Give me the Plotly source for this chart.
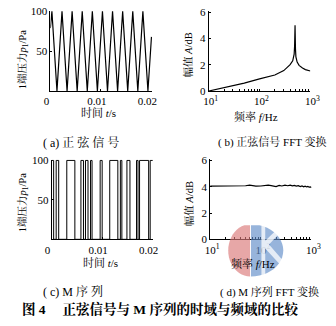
import math
import plotly.graph_objects as go

W, H = 336, 326
FONT = "Liberation Serif, Noto Serif CJK SC, Noto Sans CJK SC, serif"

# (a) sine excitation: turning points of the 500 Hz pressure signal
sine_t = [0.0, 0.0003, 0.0013, 0.0023, 0.0033, 0.0043, 0.0053, 0.0063, 0.0073,
          0.0083, 0.0093, 0.0103, 0.0113, 0.0123, 0.0133, 0.0143, 0.0153,
          0.0163, 0.0173, 0.0183, 0.0193, 0.0200]
sine_p = [79, 100, 0, 100, 0, 100, 0, 100, 0, 100, 0, 100, 0, 100, 0, 100, 0,
          100, 0, 100, 0, 68]

# (b) FFT of the sine signal
fft_sine_f = [10, 20, 50, 100, 200, 300, 400, 450, 480, 490, 500, 510, 520,
              550, 600, 700, 800, 1000]
fft_sine_a = [0.0, 0.25, 0.6, 0.92, 1.22, 1.55, 2.0, 2.3, 2.8, 3.4, 5.0, 3.2,
              2.6, 2.2, 1.95, 1.75, 1.63, 1.52]

# (c) M sequence: level changes (time, level held until next change)
mseq_t = [0.0, 0.0004, 0.0009, 0.0014, 0.0030, 0.0046, 0.0058, 0.0063,
          0.0067, 0.0072, 0.0077, 0.0080, 0.0096, 0.0100, 0.0115, 0.0131,
          0.0136, 0.0139, 0.0149, 0.0155, 0.0168, 0.0171, 0.0174, 0.0192,
          0.0195, 0.0200]
mseq_p = [100, 0, 100, 0, 100, 0, 100, 0, 100, 0, 100, 0, 100, 0, 100, 0,
          100, 0, 100, 0, 100, 0, 100, 0, 100, 100]

# (d) FFT of the M sequence
fft_m_f = [10, 15, 20, 30, 40, 50, 60, 70, 80, 100, 120, 140, 160, 180, 200,
           230, 260, 300, 340, 380, 420, 460, 500, 550, 600, 650, 700, 750,
           800, 850, 900, 950, 1000]
fft_m_a = [4.05, 4.05, 4.04, 4.05, 4.06, 4.08, 4.12, 4.07, 4.05, 4.06, 4.10,
           4.13, 4.09, 4.05, 4.02, 4.10, 4.06, 4.12, 4.08, 4.13, 4.07, 4.10,
           4.05, 4.08, 4.02, 4.07, 4.00, 4.05, 3.99, 4.03, 3.97, 3.99, 3.95]

minor_f = [20, 30, 40, 50, 60, 70, 80, 90, 200, 300, 400, 500, 600, 700, 800, 900]

# plot rectangles in pixels: (left, right, top, bottom)
BOX = {
    "a": (45.7, 152.7, 5.8, 89.0),
    "b": (212.5, 319.5, 6.0, 89.0),
    "c": (47.0, 154.0, 160.0, 242.5),
    "d": (214.0, 320.7, 159.6, 242.5),
}


def xdom(k):
    l, r, t, b = BOX[k]
    return [l / W, r / W]


def ydom(k):
    l, r, t, b = BOX[k]
    return [1 - b / H, 1 - t / H]


fig = go.Figure()
line = dict(color="black", width=1.2)
fig.add_trace(go.Scatter(x=sine_t, y=sine_p, mode="lines", line=line,
                         xaxis="x", yaxis="y"))
fig.add_trace(go.Scatter(x=fft_sine_f, y=fft_sine_a, mode="lines", line=line,
                         xaxis="x2", yaxis="y2"))
fig.add_trace(go.Scatter(x=mseq_t, y=mseq_p, mode="lines", line_shape="hv",
                         line=dict(color="black", width=1.0),
                         xaxis="x3", yaxis="y3"))
fig.add_trace(go.Scatter(x=fft_m_f, y=fft_m_a, mode="lines", line=line,
                         xaxis="x4", yaxis="y4"))

tick_font = dict(family=FONT, size=11, color="black")
common = dict(showgrid=False, zeroline=False, showline=True, linecolor="black",
              linewidth=1, ticks="inside", ticklen=2, tickcolor="black",
              tickfont=tick_font, fixedrange=True)

time_ticks = dict(tickvals=[0, 0.01, 0.02], ticktext=["0", "0.01", "0.02"],
                  range=[0, 0.0201], ticklabelshift=-4)
log_ticks = dict(type="log", range=[1, 3.0], tickvals=[10, 100, 1000],
                 ticktext=["10<sup>1</sup>", "10<sup>2</sup>", "10<sup>3</sup>"],
                 ticklabelshift=2,
                 minor=dict(tickmode="array", tickvals=minor_f, ticks="inside",
                            ticklen=2, tickcolor="black"))

fig.update_layout(
    width=W, height=H, margin=dict(l=0, r=0, t=0, b=0),
    paper_bgcolor="white", plot_bgcolor="white", showlegend=False,
    font=dict(family=FONT, color="black"),
    xaxis=dict(domain=xdom("a"), anchor="y", **time_ticks, **common),
    yaxis=dict(domain=ydom("a"), anchor="x", range=[0, 101],
               tickvals=[50, 100], **common),
    xaxis2=dict(domain=xdom("b"), anchor="y2", **log_ticks, **common),
    yaxis2=dict(domain=ydom("b"), anchor="x2", range=[0, 6.1],
                tickvals=[0, 2, 4, 6], **common),
    xaxis3=dict(domain=xdom("c"), anchor="y3", **time_ticks, **common),
    yaxis3=dict(domain=ydom("c"), anchor="x3", range=[0, 101],
                tickvals=[50, 100], **common),
    xaxis4=dict(domain=xdom("d"), anchor="y4", **log_ticks, **common),
    yaxis4=dict(domain=ydom("d"), anchor="x4", range=[0, 6.1],
                tickvals=[0, 2, 4, 6], **common),
)


# publisher's logo stamped over the lower-right panel (pixel outlines)
def poly_path(pts):
    return "M " + " L ".join("{:.4f},{:.4f}".format(x / W, 1 - y / H)
                             for x, y in pts) + " Z"


def half_disc(cx, cy, rx, ry, a0, a1, top, n=24):
    pts = []
    for i in range(n + 1):
        a = math.radians(a0 + (a1 - a0) * i / n)
        pts.append((cx + rx * math.cos(a), max(top, cy - ry * math.sin(a))))
    return pts


red_pts = [(256, 228)] + half_disc(256, 254, 23, 27, 90, 270, 228)
blue_pts = [(257, 280)] + half_disc(257, 254, 34, 27, 270, 450, 228)
fig.add_shape(type="path", xref="paper", yref="paper", layer="above",
              path=poly_path(red_pts), line_width=0,
              fillcolor="rgba(218,120,120,0.65)")
fig.add_shape(type="path", xref="paper", yref="paper", layer="above",
              path=poly_path(blue_pts), line_width=0,
              fillcolor="rgba(95,140,200,0.65)")
# white stroke of the "K" inside the blue half
fig.add_shape(type="path", xref="paper", yref="paper", layer="above",
              path=poly_path([(268, 228), (272, 228), (272, 244), (289, 228),
                              (293, 230), (276, 248), (292, 266), (289, 270),
                              (272, 252), (272, 280), (268, 280)]),
              line_width=0, fillcolor="rgba(255,255,255,0.75)")


def note(text, x, y, size=11, angle=0, bold=False):
    if bold:
        text = "<b>" + text + "</b>"
    fig.add_annotation(text=text, x=x / W, y=1 - y / H, xref="paper",
                       yref="paper", showarrow=False, textangle=angle,
                       xanchor="center", yanchor="middle",
                       font=dict(family=FONT, size=size, color="black"))


ylab_p = "1端压力<i>p</i><sub>1</sub>/Pa"
ylab_a = "幅值 <i>A</i>/dB"
note(ylab_p, 17, 57, size=10.5, angle=-90)
note(ylab_p, 17, 205, size=10.5, angle=-90)
note(ylab_a, 191, 52, size=10.5, angle=-90)
note(ylab_a, 192, 206, size=10.5, angle=-90)

note("时间 <i>t</i>/s", 96, 111, size=11)
note("频率 <i>f</i>/Hz", 262, 115, size=11)
note("时间 <i>t</i>/s", 98, 267, size=11)
note("频率 <i>f</i>/Hz", 259, 268, size=11)

note("( a) 正 弦 信 号", 78, 142, size=12)
note("( b) 正弦信号 FFT 变换", 280, 142, size=11)
note("( c) M 序 列", 70, 297, size=12)
note("( d) M 序列 FFT 变换", 276, 297, size=11)
note("图 4　 正弦信号与 M 序列的时域与频域的比较", 162, 315, size=13.5, bold=True)

fig.write_html("out.html")
